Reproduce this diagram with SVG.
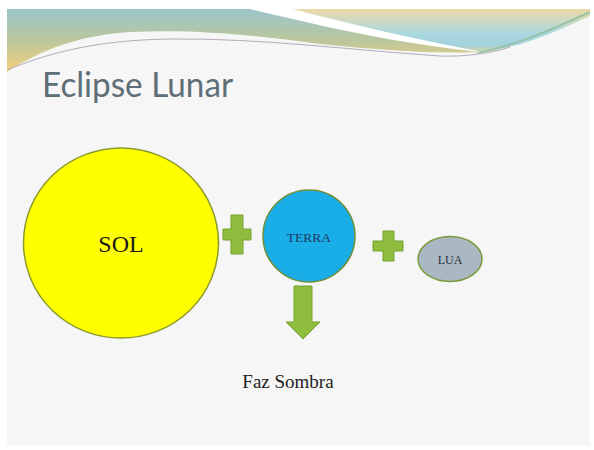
<svg xmlns="http://www.w3.org/2000/svg" width="594" height="450" viewBox="0 0 594 450">
  <defs>
    <linearGradient id="gLeft" gradientUnits="userSpaceOnUse" x1="0" y1="9" x2="0" y2="72">
      <stop offset="0" stop-color="#9cc6cc"/>
      <stop offset="0.45" stop-color="#b7c6a0"/>
      <stop offset="1" stop-color="#f3cf7c"/>
    </linearGradient>
    <linearGradient id="gRight" gradientUnits="userSpaceOnUse" x1="0" y1="9" x2="0" y2="54">
      <stop offset="0" stop-color="#ecdaa8"/>
      <stop offset="0.55" stop-color="#a9d7e0"/>
      <stop offset="0.8" stop-color="#a3d3dd"/>
      <stop offset="1" stop-color="#dfd79a"/>
    </linearGradient>
    <style>
      .plus { fill: #8fbd3d; stroke: #76a030; stroke-width: 1; }
      .lbl { font-family: "Liberation Serif", "Times New Roman", serif; text-anchor: middle; }
    </style>
  </defs>

  <rect x="0" y="0" width="594" height="450" fill="#ffffff"/>
  <rect x="7" y="9" width="583" height="437" fill="#f6f6f6"/>

  <!-- decorative top band -->
  <g id="banner">
    <path d="M7,9 L290,9 C350,25 410,40 478,52 C430,54 380,50 320,44 C260,36 200,29 130,32 C80,35 40,50 7,72 Z" fill="url(#gLeft)"/>
    <path d="M290,9 L590,9 L590,16 C560,30 520,48 478,53 C410,40 350,25 290,9 Z" fill="url(#gRight)"/>
    <path d="M250,9 L292,9 C350,24 410,38 482,52 C400,44 330,28 250,9 Z" fill="#ffffff"/>
    <path d="M478,53 C520,44 555,28 590,12" fill="none" stroke="#8fbf9e" stroke-width="2" opacity="0.8"/>
    <path d="M7,70 C60,48 110,40 170,39 C260,38 350,50 440,56 C470,57 495,52 510,47" fill="none" stroke="#b3abba" stroke-width="1"/>
  </g>

  <text id="title" x="42" y="97" font-family="Lato, 'Liberation Sans', sans-serif" font-size="35" fill="#5e6e77" textLength="191" lengthAdjust="spacingAndGlyphs">Eclipse Lunar</text>

  <g id="sol">
    <ellipse cx="121" cy="243" rx="97.5" ry="95" fill="#ffff00" stroke="#8c9a2e" stroke-width="1.5"/>
    <text class="lbl" x="121" y="252" font-size="24" fill="#1a1a1a">SOL</text>
  </g>

  <g id="plus1">
    <path class="plus" d="M231,215 H243 V229 H251 V240 H243 V254 H231 V240 H223 V229 H231 Z"/>
  </g>

  <g id="terra">
    <circle cx="309" cy="236" r="46" fill="#19aee8" stroke="#6e8f3a" stroke-width="1.5"/>
    <text class="lbl" x="309" y="242" font-size="13.5" fill="#1f3864">TERRA</text>
  </g>

  <g id="plus2">
    <path class="plus" d="M383,231 H394 V241 H403 V251 H394 V261 H383 V251 H373 V241 H383 Z"/>
  </g>

  <g id="lua">
    <ellipse cx="450" cy="259" rx="32" ry="22.5" fill="#a9b8c2" stroke="#7c9a3c" stroke-width="1.5"/>
    <text class="lbl" x="450" y="264" font-size="12" fill="#2a3040">LUA</text>
  </g>

  <g id="connectors">
    <path class="plus" d="M294,286 H312 V322 H320 L303,339 L286,322 H294 Z"/>
  </g>

  <g id="sombra">
    <text class="lbl" x="288" y="388" font-size="19" fill="#222222">Faz Sombra</text>
  </g>
</svg>
